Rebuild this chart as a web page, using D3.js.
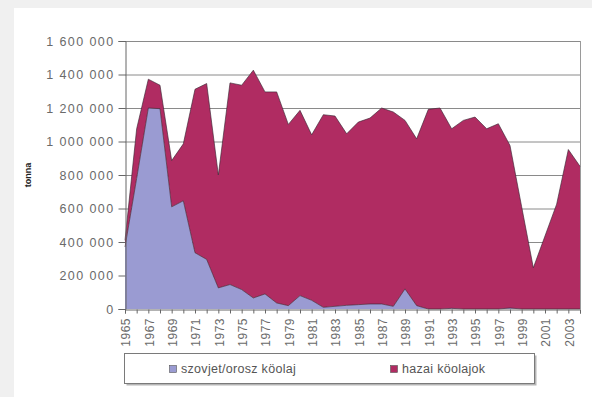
<!DOCTYPE html>
<html>
<head>
<meta charset="utf-8">
<script src="https://cdn.jsdelivr.net/npm/d3@7"></script>
<style>
  html, body { margin: 0; padding: 0; background: #f0f0f0; }
  svg { display: block; }
  text { font-family: "Liberation Sans", Arial, sans-serif; }
</style>
</head>
<body>
<svg id="chart" width="592" height="397"></svg>
<script>
// Years (categories)
const years = [
  1965, 1966, 1967, 1968, 1969, 1970, 1971, 1972, 1973, 1974,
  1975, 1976, 1977, 1978, 1979, 1980, 1981, 1982, 1983, 1984,
  1985, 1986, 1987, 1988, 1989, 1990, 1991, 1992, 1993, 1994,
  1995, 1996, 1997, 1998, 1999, 2000, 2001, 2002, 2003, 2004
];

// Soviet/Russian crude oil, tonnes
const szovjet = [
  370000, 780000, 1200000, 1196000, 610000, 646000, 336000, 296000, 126000, 146000,
  116000, 66000, 90000, 36000, 20000, 80000, 52000, 10000, 16000, 22000,
  26000, 30000, 30000, 16000, 120000, 20000, 0, 0, 4000, 0,
  0, 0, 0, 6000, 0, 0, 0, 0, 0, 0
];

// Domestic crude oils, tonnes
const hazai = [
  40000, 296000, 172000, 140000, 276000, 340000, 976000, 1050000, 674000, 1204000,
  1220000, 1360000, 1206000, 1260000, 1082000, 1106000, 988000, 1150000, 1136000, 1024000,
  1090000, 1110000, 1170000, 1160000, 1006000, 996000, 1192000, 1200000, 1072000, 1126000,
  1146000, 1076000, 1106000, 970000, 610000, 246000, 436000, 626000, 952000, 852000
];

const seriesNames = ["szovjet/orosz köolaj", "hazai köolajok"];
const seriesColors = ["#9a9bd2", "#b02c62"];
const yTicks = [0, 200000, 400000, 600000, 800000, 1000000, 1200000, 1400000, 1600000];
const xLabelYears = years.filter((y, i) => i % 2 === 0);

const svg = d3.select("#chart");

// white chart panel
svg.append("rect")
  .attr("x", 14).attr("y", 8).attr("width", 578).attr("height", 389)
  .attr("fill", "#ffffff");

const plot = { left: 125, right: 580, top: 41, bottom: 309 };

const x = d3.scalePoint().domain(years).range([plot.left, plot.right]);
const y = d3.scaleLinear().domain([0, 1600000]).range([plot.bottom, plot.top]);

const fmt = d3.formatLocale({ decimal: ",", thousands: " ", grouping: [3], currency: ["", ""] }).format(",");

// horizontal gridlines
svg.append("g")
  .selectAll("line")
  .data(yTicks.filter(d => d > 0))
  .join("line")
  .attr("x1", plot.left).attr("x2", plot.right)
  .attr("y1", d => y(d) + 0.5).attr("y2", d => y(d) + 0.5)
  .attr("stroke", "#8a8a8a").attr("stroke-width", 1);

// right border of the plot area
svg.append("line")
  .attr("x1", plot.right + 0.5).attr("x2", plot.right + 0.5)
  .attr("y1", plot.top).attr("y2", plot.bottom)
  .attr("stroke", "#9a9a9a");

// stacked areas
const rows = years.map((yr, i) => ({ year: yr, szovjet: szovjet[i], hazai: hazai[i] }));
const stacked = d3.stack().keys(["szovjet", "hazai"])(rows);

const area = d3.area()
  .x(d => x(d.data.year))
  .y0(d => y(d[0]))
  .y1(d => y(d[1]));

const topLine = d3.line()
  .x(d => x(d.data.year))
  .y(d => y(d[1]));

svg.append("g")
  .selectAll("path")
  .data(stacked)
  .join("path")
  .attr("d", area)
  .attr("fill", (d, i) => seriesColors[i]);

svg.append("g")
  .selectAll("path")
  .data(stacked)
  .join("path")
  .attr("d", topLine)
  .attr("fill", "none")
  .attr("stroke", "#3b2634")
  .attr("stroke-width", 0.8)
  .attr("stroke-opacity", 0.8);

// y axis
const yAxis = svg.append("g")
  .attr("transform", `translate(${plot.left + 0.5},0)`)
  .call(d3.axisLeft(y).tickValues(yTicks).tickSize(7).tickPadding(4).tickFormat(fmt));
yAxis.select(".domain").attr("stroke", "#666");
yAxis.selectAll(".tick line").attr("stroke", "#666");
yAxis.selectAll(".tick text")
  .attr("fill", "#6a6a6a")
  .style("font-size", "12.5px")
  .style("letter-spacing", "1.4px");

// x axis
const xAxis = svg.append("g")
  .attr("transform", `translate(0,${plot.bottom + 0.5})`)
  .call(d3.axisBottom(x).tickSize(4).tickFormat(""));
xAxis.select(".domain").attr("stroke", "#666");
xAxis.selectAll(".tick line").attr("stroke", "#666");

svg.append("g")
  .selectAll("text")
  .data(xLabelYears)
  .join("text")
  .attr("transform", d => `translate(${x(d) + 1},${plot.bottom + 9}) rotate(-90)`)
  .attr("text-anchor", "end")
  .attr("dy", "0.35em")
  .attr("fill", "#6a6a6a")
  .style("font-size", "12px")
  .style("letter-spacing", "0.5px")
  .text(d => d);

// y axis title
svg.append("text")
  .attr("transform", `translate(28,175) rotate(-90)`)
  .attr("text-anchor", "middle")
  .attr("dy", "0.35em")
  .attr("fill", "#222")
  .style("font-size", "9px")
  .style("font-weight", "bold")
  .text("tonna");

// legend
const lg = svg.append("g");
lg.append("rect")
  .attr("x", 126.5).attr("y", 355.5).attr("width", 410).attr("height", 30)
  .attr("fill", "#b5b5b5");
lg.append("rect")
  .attr("x", 124.5).attr("y", 353.5).attr("width", 410).attr("height", 30)
  .attr("fill", "#ffffff").attr("stroke", "#7a7a7a");

const legendX = [169, 390];
seriesNames.forEach((name, i) => {
  lg.append("rect")
    .attr("x", legendX[i] + 0.5).attr("y", 365.5).attr("width", 7).attr("height", 7)
    .attr("fill", seriesColors[i]).attr("stroke", "#555").attr("stroke-width", 0.6);
  lg.append("text")
    .attr("x", legendX[i] + 12).attr("y", 369)
    .attr("dy", "0.35em")
    .attr("fill", "#555")
    .style("font-size", "12.5px")
    .style("letter-spacing", "0.3px")
    .text(name);
});
</script>
</body>
</html>
